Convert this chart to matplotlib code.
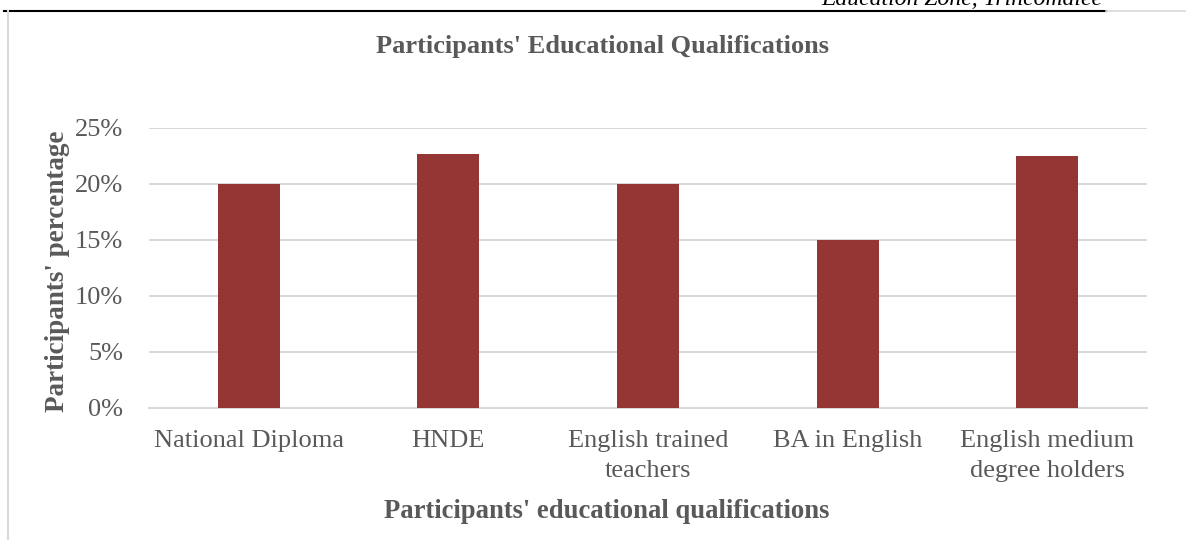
import matplotlib
matplotlib.use("Agg")
import matplotlib.pyplot as plt
from matplotlib.lines import Line2D
from matplotlib.ticker import FuncFormatter

categories = ["National Diploma", "HNDE", "English trained\nteachers",
              "BA in English", "English medium\ndegree holders"]
values = [0.20, 0.226, 0.20, 0.15, 0.225]
yticks = [0, 0.05, 0.10, 0.15, 0.20, 0.25]

W, H = 1186, 540
fig = plt.figure(figsize=(W / 100, H / 100), dpi=100)
plt.rcParams['font.family'] = ['Liberation Serif', 'DejaVu Serif']

txt = "#595959"
bar_color = "#943634"
grid_c = "#d9d9d9"

left, right = 149 / W, 1147 / W
bottom, top = 1 - 407.5 / H, 1 - 127.5 / H
ax = fig.add_axes([left, bottom, right - left, top - bottom])

x = list(range(len(categories)))
ax.bar(x, values, width=0.31, color=bar_color, zorder=3)
ax.set_xlim(-0.5, len(categories) - 0.5)
ax.set_ylim(0, 0.25)
ax.set_yticks(yticks)
ax.yaxis.set_major_formatter(FuncFormatter(lambda v, p: f"{v*100:.0f}%"))
ax.set_xticks(x)
ax.set_xticklabels(categories, linespacing=1.5)
ax.tick_params(axis='both', length=0, labelsize=19, colors=txt)
ax.tick_params(axis='y', pad=18.5)
ax.tick_params(axis='x', pad=16)
for s in ["top", "right", "left"]:
    ax.spines[s].set_visible(False)
ax.spines["bottom"].set_color(grid_c)
ax.spines["bottom"].set_linewidth(1.5)
ax.grid(axis='y', color=grid_c, linewidth=1.5, zorder=0)
ax.set_axisbelow(True)

fig.text(602 / W, 1 - 47 / H, "Participants' Educational Qualifications",
         ha='center', va='center', fontsize=19, fontweight='bold', color=txt)
fig.text(58 / W, 1 - 271 / H, "Participants' percentage", rotation=90,
         ha='center', va='center', fontsize=19.5, fontweight='bold', color=txt)
fig.text(607 / W, 1 - 511 / H, "Participants' educational qualifications",
         ha='center', va='center', fontsize=19.2, fontweight='bold', color=txt)

# page header fragment
fig.text(1102 / W, 1 - 5 / H, "Education Zone, Trincomalee", ha='right',
         va='baseline', fontsize=17, style='italic', color='black')
fig.add_artist(Line2D([4 / W, 1106 / W], [1 - 10.5 / H, 1 - 10.5 / H],
                      color='black', linewidth=1.5, transform=fig.transFigure))
fig.add_artist(Line2D([1106 / W, 1], [1 - 11 / H, 1 - 11 / H],
                      color='#d9d9d9', linewidth=1.2, transform=fig.transFigure))
fig.add_artist(Line2D([7.5 / W, 7.5 / W], [0, 1 - 11 / H],
                      color='#d9d9d9', linewidth=1.5, transform=fig.transFigure))

fig.savefig("out.png", dpi=100)
